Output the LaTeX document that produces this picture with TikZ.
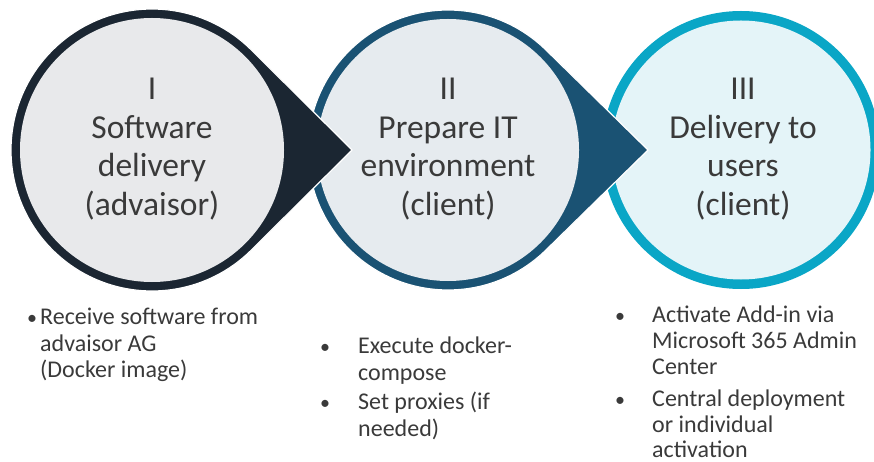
\documentclass[tikz,border=0pt]{standalone}
\usepackage{fontspec}
\setmainfont{Carlito}
\usetikzlibrary{calc}
\definecolor{ringA}{HTML}{1B2632}
\definecolor{fillA}{HTML}{E8E9EB}
\definecolor{ringB}{HTML}{1A5273}
\definecolor{fillB}{HTML}{E6EBEF}
\definecolor{ringC}{HTML}{0AA6C6}
\definecolor{fillC}{HTML}{E4F4F8}
\definecolor{txt}{HTML}{3A3A3A}
\tikzset{
  ctext/.style={font=\fontsize{33.5}{38}\selectfont, text=txt, anchor=base, inner sep=0pt},
  btext/.style={font=\fontsize{24}{26}\selectfont, text=txt, anchor=base west, inner sep=0pt},
  bdot/.style={font=\fontsize{20}{26}\selectfont, text=txt, anchor=base, inner sep=0pt},
  drop/.style={draw=white, line width=1.2pt},
}
\begin{document}
\begin{tikzpicture}[x=1pt,y=-1pt]
\useasboundingbox (0,0) rectangle (874,462);
\coordinate (c1) at (152,150);
\coordinate (t1) at (352,150);
\coordinate (c2) at (448,150);
\coordinate (t2) at (648,150);
\coordinate (c3) at (741,150);
\pgfmathsetmacro{\ta}{acos(141/200)}
\pgfmathsetmacro{\tb}{acos(140/200)}
% circle III
\fill[ringC] (c3) circle[radius=139];
\fill[fillC] (c3) circle[radius=129.5];
% circle II with pointer
\fill[ringB, drop] ($(c2)+(\tb:140)$) arc[start angle=\tb, end angle=360-\tb, radius=140] -- (t2) -- cycle;
\fill[fillB] (c2) circle[radius=131];
% circle I with pointer
\fill[ringA, drop] ($(c1)+(\ta:141)$) arc[start angle=\ta, end angle=360-\ta, radius=141] -- (t1) -- cycle;
\fill[fillA] (c1) circle[radius=132];
% circle texts
\node[ctext] (a1) at (152,100) {I};
\node[ctext] (a2) at (152,139) {Software};
\node[ctext] (a3) at (152,177) {delivery};
\node[ctext] (a4) at (152,215) {(advaisor)};
\node[ctext] (b1) at (448,100) {II};
\node[ctext] (b2) at (448,139) {Prepare IT};
\node[ctext] (b3) at (448,177) {environment};
\node[ctext] (b4) at (448,215) {(client)};
\node[ctext] (d1) at (743,100) {III};
\node[ctext] (d2) at (743,139) {Delivery to};
\node[ctext] (d3) at (743,177) {users};
\node[ctext] (d4) at (743,215) {(client)};
% list I
\node[bdot] (p1) at (32,324) {•};
\node[btext] (p1a) at (40,324) {Receive software from};
\node[btext] (p1b) at (40,351) {advaisor AG};
\node[btext] (p1c) at (40,377) {(Docker image)};
% list II
\node[bdot] (q1) at (325,353) {•};
\node[btext] (q1a) at (358,353) {Execute docker-};
\node[btext] (q1b) at (358,380) {compose};
\node[bdot] (q2) at (325,409) {•};
\node[btext] (q2a) at (358,409) {Set proxies (if};
\node[btext] (q2b) at (358,436) {needed)};
% list III
\node[bdot] (r1) at (620,322) {•};
\node[btext] (r1a) at (652,322) {Activate Add-in via};
\node[btext] (r1b) at (652,348) {Microsoft 365 Admin};
\node[btext] (r1c) at (652,374) {Center};
\node[bdot] (r2) at (620,406) {•};
\node[btext] (r2a) at (652,406) {Central deployment};
\node[btext] (r2b) at (652,432) {or individual};
\node[btext] (r2c) at (652,457) {activation};
\end{tikzpicture}
\end{document}
